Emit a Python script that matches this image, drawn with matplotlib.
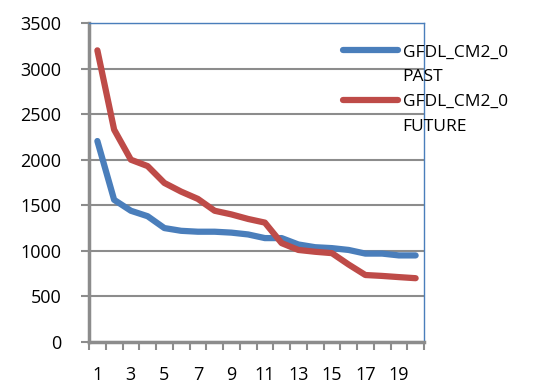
import numpy as np
import matplotlib.pyplot as plt
from matplotlib.lines import Line2D

# data
cats = np.arange(1, 21)
past = [2205, 1560, 1440, 1380, 1250, 1220, 1210, 1210, 1200, 1180,
        1140, 1140, 1070, 1040, 1030, 1010, 970, 970, 950, 950]
future = [3200, 2330, 2000, 1930, 1745, 1650, 1570, 1440, 1400, 1350,
          1310, 1085, 1010, 990, 975, 850, 735, 725, 712, 700]
model = "GFDL_CM2_0"
periods = ["PAST", "FUTURE"]

plt.rcParams['font.family'] = ['Open Sans', 'DejaVu Sans']

fig = plt.figure(figsize=(5.33, 3.9), dpi=100)
ax = fig.add_axes([89 / 533, 1 - 342 / 390, 335 / 533, 319 / 390])

l1, = ax.plot(cats, past, color='#4a7ebb', lw=4.5, solid_capstyle='round')
l2, = ax.plot(cats, future, color='#be4b48', lw=4.5, solid_capstyle='round')

ax.set_xlim(0.5, 20.5)
ax.set_ylim(0, 3500)
ax.set_yticks(np.arange(0, 3501, 500))
ax.yaxis.grid(True, color='#8c8c8c', lw=1.5)
ax.set_axisbelow(True)

ax.set_xticks(np.arange(0.5, 21, 1))
ax.set_xticklabels([])
ax.set_xticks(cats[::2], minor=True)
ax.set_xticklabels([str(c) for c in cats[::2]], minor=True, fontsize=13)
ax.tick_params(axis='x', which='major', length=6, width=1.5, color='#8c8c8c', direction='out')
ax.tick_params(axis='x', which='minor', length=0, pad=17)
ax.tick_params(axis='y', length=6, width=1.5, color='#8c8c8c', labelsize=13, pad=14)

for s in ('left', 'bottom'):
    ax.spines[s].set_color('#8c8c8c')
    ax.spines[s].set_linewidth(2.5)
for s in ('top', 'right'):
    ax.spines[s].set_color('#4a7ebb')
    ax.spines[s].set_linewidth(1)

# legend: model name next to the line, period on the row below
blank = Line2D([], [], color='none')
handles = [l1, blank, l2, blank]
texts = [model, periods[0], model, periods[1]]
leg = ax.legend(handles, texts, loc='upper left', bbox_to_anchor=(0.737, 0.955),
                frameon=False, fontsize=12.5, handlelength=3.2, handletextpad=0.25,
                labelspacing=0.5, borderaxespad=0)

fig.savefig('out.png', dpi=100)
